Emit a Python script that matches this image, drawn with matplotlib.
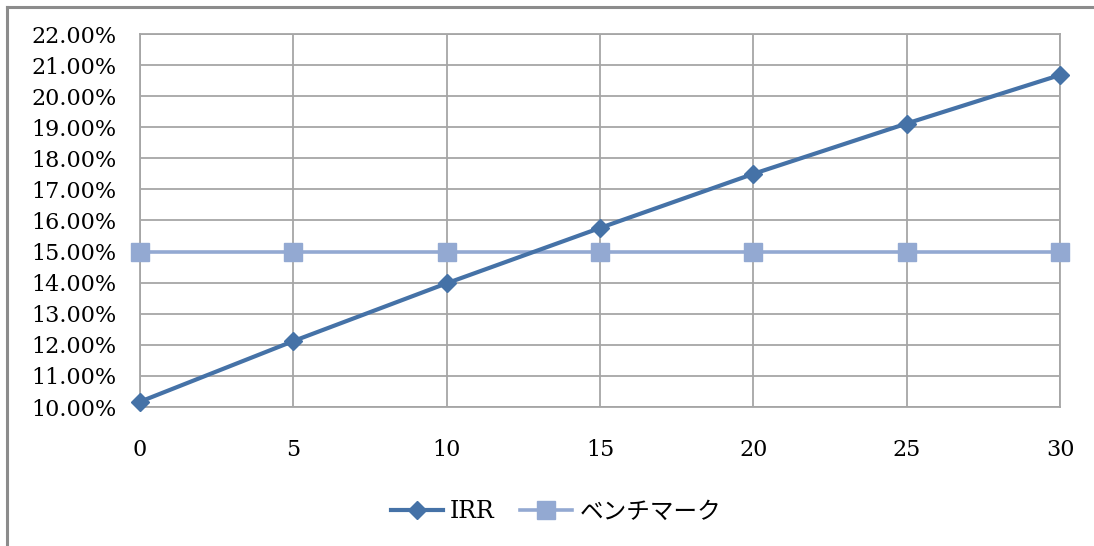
import matplotlib
matplotlib.use("Agg")
import matplotlib.pyplot as plt
from matplotlib.lines import Line2D
from matplotlib.ticker import FuncFormatter, MultipleLocator

# Data
years = [0, 5, 10, 15, 20, 25, 30]
irr = [10.17, 12.12, 13.98, 15.76, 17.50, 19.12, 20.68]
benchmark = [15.0, 15.0, 15.0, 15.0, 15.0, 15.0, 15.0]
series_names = ["IRR", "ベンチマーク"]

plt.rcParams["font.family"] = ["DejaVu Serif", "Noto Sans CJK JP"]

fig = plt.figure(figsize=(10.94, 5.46), dpi=100)
ax = fig.add_axes([140 / 1094, 1 - 407 / 546, 920 / 1094, 373 / 546])

irr_color = "#4572A7"
bench_color = "#93A9D2"
grid_color = "#A6A6A6"

ax.plot(years, benchmark, color=bench_color, lw=2.6, marker="s", ms=13,
        mec=bench_color, mfc=bench_color, label=series_names[1], zorder=3,
        clip_on=False)
ax.plot(years, irr, color=irr_color, lw=3.0, marker="D", ms=9.5,
        mec=irr_color, mfc=irr_color, label=series_names[0], zorder=4,
        clip_on=False)

ax.set_xlim(0, 30)
ax.set_ylim(10, 22)
ax.xaxis.set_major_locator(MultipleLocator(5))
ax.yaxis.set_major_locator(MultipleLocator(1))
ax.yaxis.set_major_formatter(FuncFormatter(lambda v, p: f"{v:.2f}%"))

ax.grid(True, color=grid_color, lw=1.3)
ax.set_axisbelow(True)
for s in ax.spines.values():
    s.set_color(grid_color)
    s.set_linewidth(1.3)

ax.tick_params(axis="both", length=0, labelsize=16, colors="#000000")
ax.tick_params(axis="y", pad=17)
ax.tick_params(axis="x", pad=23)

# Legend below the plot area
handles = [
    Line2D([0], [0], color=irr_color, lw=3.0, marker="D", ms=9.5,
           mec=irr_color, mfc=irr_color),
    Line2D([0], [0], color=bench_color, lw=2.6, marker="s", ms=13,
           mec=bench_color, mfc=bench_color),
]
fig.legend(handles, series_names, loc="center", bbox_to_anchor=(556 / 1094, 1 - 512 / 546),
           ncol=2, frameon=False, fontsize=17, handlelength=2.2,
           handletextpad=0.3, columnspacing=1.1)

# Outer chart frame (left and top edges)
fig.add_artist(Line2D([7 / 1094, 7 / 1094], [0, 1 - 7 / 546], color="#8C8C8C", lw=2.2,
                      transform=fig.transFigure))
fig.add_artist(Line2D([7 / 1094, 1], [1 - 7 / 546, 1 - 7 / 546], color="#8C8C8C", lw=2.2,
                      transform=fig.transFigure))

fig.savefig("out.png", dpi=100, facecolor="white")
